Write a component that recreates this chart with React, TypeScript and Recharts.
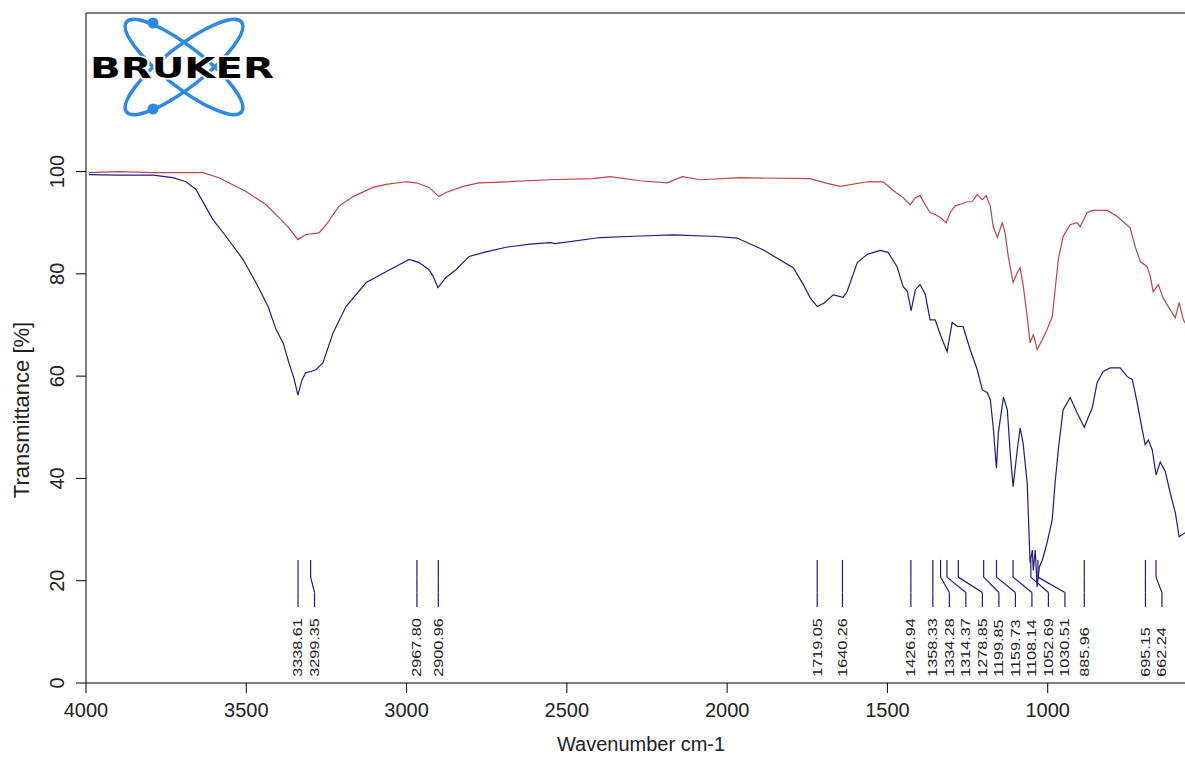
import React from "react";
import {
  LineChart,
  Line,
  XAxis,
  YAxis,
  ReferenceLine,
  ReferenceDot,
} from "recharts";

// blue trace (sample 1)
const blueWavenumbers = [
  3991, 3897, 3791, 3729, 3688, 3657, 3604, 3563, 3510, 3470, 3432, 3407, 3385,
  3367, 3351, 3339, 3326, 3314, 3298, 3282, 3261, 3229, 3189, 3126, 3064, 2992,
  2961, 2930, 2917, 2902, 2877, 2846, 2805, 2752, 2690, 2615, 2552, 2537, 2396,
  2271, 2168, 2031, 1969, 1888, 1794, 1763, 1741, 1719, 1697, 1669, 1638, 1626,
  1594, 1563, 1523, 1498, 1470, 1451, 1438, 1426, 1413, 1398, 1382, 1367, 1351,
  1335, 1314, 1298, 1282, 1264, 1242, 1220, 1204, 1189, 1179, 1170, 1160, 1154,
  1138, 1126, 1117, 1108, 1095, 1086, 1077, 1064, 1055, 1048, 1045, 1039, 1033,
  1026, 1017, 1002, 986, 977, 967, 952, 930, 908, 886, 861, 846, 827, 805, 774,
  752, 736, 721, 705, 696, 686, 674, 662, 649, 633, 618, 602, 590, 571,
];
const blueValues = [
  99.4, 99.3, 99.3, 98.8, 98.0, 96.5, 90.6, 87.3, 82.8, 78.3, 73.6, 69.1, 66.5,
  62.6, 59.5, 56.3, 59.3, 60.7, 60.9, 61.3, 62.6, 68.5, 73.6, 78.3, 80.4, 82.8,
  82.2, 80.8, 79.5, 77.3, 79.3, 80.8, 83.4, 84.3, 85.2, 85.8, 86.1, 85.9, 87.1,
  87.4, 87.6, 87.3, 87.0, 84.7, 81.2, 78.0, 75.3, 73.6, 74.3, 75.9, 75.4, 76.5,
  82.2, 83.8, 84.6, 84.2, 81.4, 77.5, 76.6, 72.8, 76.9, 77.9, 76.0, 71.0, 71.0,
  68.1, 64.8, 70.5, 69.7, 69.7, 65.2, 61.3, 57.3, 56.8, 55.4, 50.0, 42.0, 48.9,
  55.9, 53.4, 45.0, 38.4, 45.6, 49.9, 47.0, 39.1, 23.5, 26.0, 22.0, 26.0, 18.8,
  22.7, 24.0, 27.4, 31.9, 39.1, 45.6, 53.4, 55.8, 52.8, 50.0, 53.8, 58.7, 60.9,
  61.6, 61.6, 59.9, 59.3, 54.8, 49.5, 46.6, 47.5, 45.6, 40.7, 43.2, 41.3, 37.2,
  33.3, 28.6, 29.4,
];

// red trace (sample 2)
const redWavenumbers = [
  3991, 3897, 3791, 3635, 3585, 3501, 3438, 3398, 3367, 3339, 3314, 3273, 3251,
  3211, 3167, 3105, 3064, 3002, 2970, 2930, 2899, 2877, 2824, 2774, 2690, 2552,
  2420, 2365, 2271, 2187, 2140, 2084, 1959, 1741, 1688, 1647, 1563, 1513, 1482,
  1451, 1429, 1413, 1398, 1382, 1367, 1351, 1335, 1317, 1304, 1289, 1267, 1251,
  1236, 1220, 1204, 1192, 1179, 1170, 1157, 1142, 1133, 1123, 1108, 1095, 1086,
  1076, 1064, 1055, 1045, 1039, 1033, 1017, 1002, 986, 977, 967, 952, 930, 908,
  899, 877, 858, 814, 783, 743, 727, 711, 690, 680, 671, 655, 640, 624, 602,
  590, 577, 567,
];
const redValues = [
  99.8, 100.0, 99.8, 99.8, 98.8, 96.1, 93.5, 91.0, 89.0, 86.7, 87.7, 88.0, 89.6,
  93.2, 95.1, 96.9, 97.5, 98.0, 97.8, 96.9, 95.1, 95.9, 97.1, 97.8, 98.0, 98.4,
  98.6, 99.0, 98.2, 97.8, 99.0, 98.4, 98.8, 98.6, 97.7, 97.1, 98.0, 98.0, 96.3,
  94.9, 93.5, 94.9, 95.3, 93.5, 92.0, 91.6, 91.0, 90.0, 92.0, 93.3, 93.7, 94.1,
  94.1, 95.5, 94.5, 95.3, 93.2, 89.2, 87.1, 90.0, 88.0, 83.4, 78.3, 80.2, 81.2,
  77.5, 71.6, 66.5, 68.1, 66.7, 65.2, 67.1, 69.1, 71.6, 76.9, 82.8, 87.3, 89.6,
  90.0, 89.2, 92.0, 92.4, 92.4, 91.2, 89.0, 85.3, 82.4, 81.4, 79.5, 76.5, 77.9,
  75.3, 73.6, 71.4, 74.4, 71.0, 70.0,
];

// picked peaks
const peakWavenumbers = [
  3338.61, 3299.35, 2967.8, 2900.96, 1719.05, 1640.26, 1426.94, 1358.33,
  1334.28, 1314.37, 1278.85, 1199.85, 1159.73, 1108.14, 1052.69, 1030.51,
  885.96, 695.15, 662.24, 555.1,
];
const peakLabels = [
  "3338.61", "3299.35", "2967.80", "2900.96", "1719.05", "1640.26", "1426.94",
  "1358.33", "1334.28", "1314.37", "1278.85", "1199.85", "1159.73", "1108.14",
  "1052.69", "1030.51", "885.96", "695.15", "662.24", "555.10",
];

const xTicks = [4000, 3500, 3000, 2500, 2000, 1500, 1000];
const yTicks = [0, 20, 40, 60, 80, 100];

const blueData = blueWavenumbers.map((wn, i) => ({ wn, t: blueValues[i] }));
const redData = redWavenumbers.map((wn, i) => ({ wn, t: redValues[i] }));

// labels are pushed right when they would overlap
const MIN_GAP = 51.5;
const labelPositions: number[] = [];
peakWavenumbers.forEach((wn, i) => {
  labelPositions.push(i === 0 ? wn : Math.min(wn, labelPositions[i - 1] - MIN_GAP));
});

const NAVY = "#1c1c86";
const RED = "#bd4545";
const TEXT = "#222";
const FONT = "'Liberation Sans', Arial, sans-serif";

const Y_TOP = 24.07;
const Y_BEND1 = 20.7;
const Y_BEND2 = 17.7;
const Y_BOTTOM = 14.87;
const Y_TEXT = 1.2;

function YTick({ y, payload }: any) {
  return (
    <text
      x={64}
      y={y}
      transform={`rotate(-90, 64, ${y})`}
      textAnchor="middle"
      fontSize={20}
      fill={TEXT}
      fontFamily={FONT}
    >
      {payload.value}
    </text>
  );
}

function XTick({ x, y, payload }: any) {
  return (
    <text
      x={x}
      y={y + 22}
      textAnchor="middle"
      fontSize={20}
      fill={TEXT}
      fontFamily={FONT}
    >
      {payload.value}
    </text>
  );
}

function PeakText(label: string) {
  return ({ cx, cy }: any) => (
    <text
      transform={`translate(${cx},${cy}) rotate(-90) scale(1.25,1)`}
      textAnchor="start"
      dominantBaseline="central"
      fontSize={13}
      fill={TEXT}
      fontFamily={FONT}
    >
      {label}
    </text>
  );
}

function BrukerLogo() {
  return (
    <svg
      width={300}
      height={120}
      style={{ position: "absolute", left: 0, top: 0 }}
    >
      <g fill="none" stroke="#2b8ae2" strokeWidth={3.5}>
        <ellipse cx={184} cy={67} rx={73} ry={20} transform="rotate(38 184 67)" />
        <ellipse cx={184} cy={67} rx={73} ry={20} transform="rotate(-38 184 67)" />
      </g>
      <circle cx={153} cy={23} r={5.5} fill="#2b8ae2" />
      <circle cx={153} cy={109} r={5.5} fill="#2b8ae2" />
      <text
        x={90}
        y={78}
        fontSize={29}
        fontWeight={900}
        fontFamily="'DejaVu Sans', sans-serif"
        textLength={184}
        lengthAdjust="spacingAndGlyphs"
        fill="#000"
        stroke="#fff"
        strokeWidth={3}
        paintOrder="stroke"
      >
        BRUKER
      </text>
    </svg>
  );
}

export default function App() {
  return (
    <div
      style={{
        position: "fixed",
        left: 0,
        top: 0,
        width: 1185,
        height: 757,
        overflow: "hidden",
        background: "#fff",
      }}
    >
      <div style={{ position: "absolute", left: 0, top: 0 }}>
        <LineChart
          width={1208}
          height={757}
          margin={{ top: 13, right: 0, bottom: 0, left: 0 }}
        >
          <XAxis
            dataKey="wn"
            type="number"
            reversed
            domain={[500, 4000]}
            ticks={xTicks}
            interval={0}
            allowDataOverflow
            height={74}
            tickSize={10}
            stroke="#000"
            tick={<XTick />}
            label={{
              content: () => (
                <text
                  x={641}
                  y={751}
                  textAnchor="middle"
                  fontSize={20}
                  fill={TEXT}
                  fontFamily={FONT}
                >
                  Wavenumber cm-1
                </text>
              ),
            }}
          />
          <YAxis
            type="number"
            domain={[0, 131]}
            ticks={yTicks}
            interval={0}
            allowDataOverflow
            width={86}
            tickSize={10}
            stroke="#000"
            tick={<YTick />}
            label={{
              content: () => (
                <text
                  x={29}
                  y={410}
                  transform="rotate(-90, 29, 410)"
                  textAnchor="middle"
                  fontSize={22}
                  fill={TEXT}
                  fontFamily={FONT}
                >
                  Transmittance [%]
                </text>
              ),
            }}
          />
          <ReferenceLine y={131} stroke="#000" strokeWidth={1.2} />

          {peakWavenumbers.map((wn, i) => (
            <ReferenceLine
              key={`a${i}`}
              segment={[
                { x: wn, y: Y_TOP },
                { x: wn, y: Y_BEND1 },
              ]}
              stroke={NAVY}
              strokeWidth={1.2}
            />
          ))}
          {peakWavenumbers.map((wn, i) => (
            <ReferenceLine
              key={`b${i}`}
              segment={[
                { x: wn, y: Y_BEND1 },
                { x: labelPositions[i], y: Y_BEND2 },
              ]}
              stroke={NAVY}
              strokeWidth={1.2}
            />
          ))}
          {peakWavenumbers.map((wn, i) => (
            <ReferenceLine
              key={`c${i}`}
              segment={[
                { x: labelPositions[i], y: Y_BEND2 },
                { x: labelPositions[i], y: Y_BOTTOM },
              ]}
              stroke={NAVY}
              strokeWidth={1.2}
            />
          ))}
          {peakLabels.map((label, i) => (
            <ReferenceDot
              key={`t${i}`}
              x={labelPositions[i]}
              y={Y_TEXT}
              r={0}
              shape={PeakText(label)}
            />
          ))}

          <Line
            data={redData}
            dataKey="t"
            type="linear"
            dot={false}
            stroke={RED}
            strokeWidth={1.2}
            isAnimationActive={false}
          />
          <Line
            data={blueData}
            dataKey="t"
            type="linear"
            dot={false}
            stroke={NAVY}
            strokeWidth={1.2}
            isAnimationActive={false}
          />
        </LineChart>
      </div>
      <BrukerLogo />
    </div>
  );
}
